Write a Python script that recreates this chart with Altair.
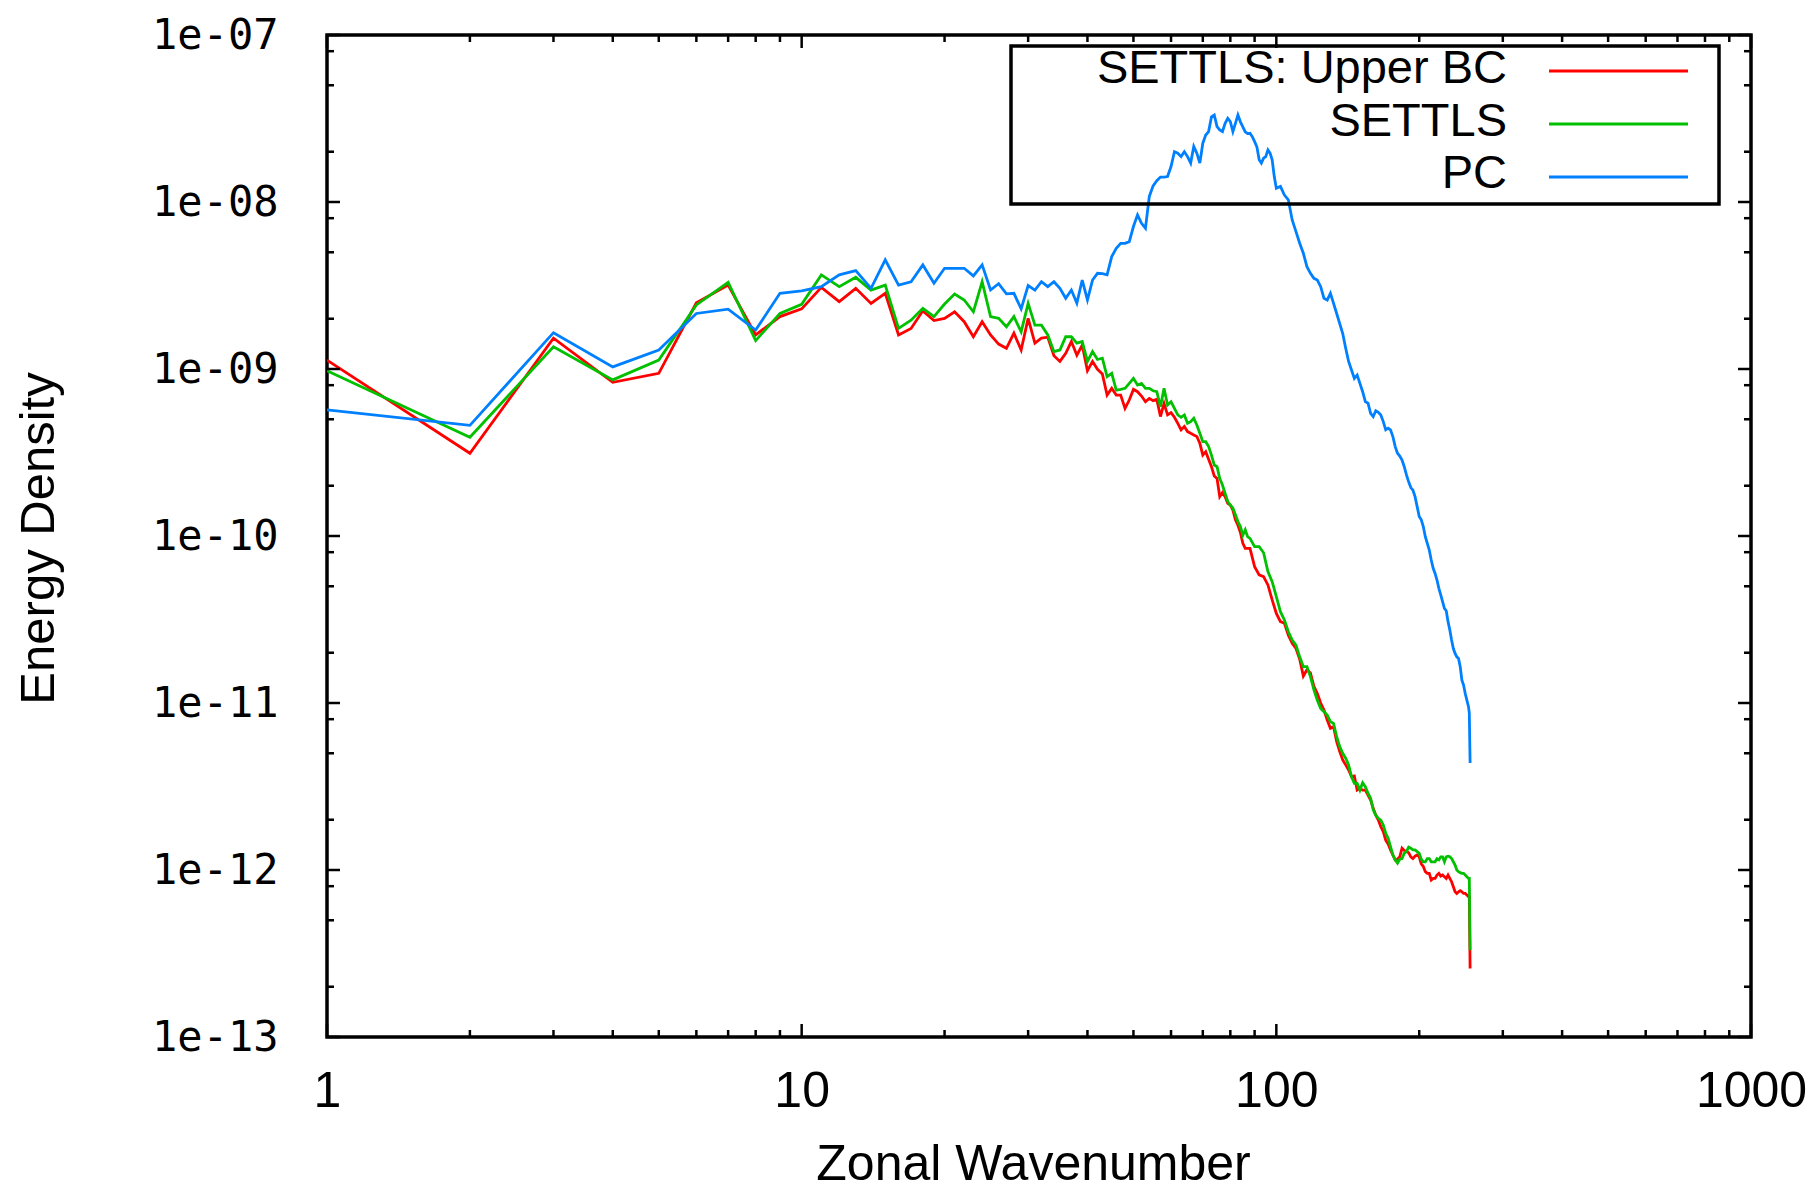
import altair as alt
import pandas as pd

# ---------------- data ----------------
k_settls = [
    1, 2, 3, 4, 5, 6, 7, 8, 9, 10, 11, 12, 13, 14, 15, 16, 17, 18, 19, 20,
    21, 22, 23, 24, 25, 26, 27, 28, 29, 30, 31, 32, 33, 34, 35, 36, 37, 38, 39, 40,
    41, 42, 43, 44, 45, 46, 47, 48, 49, 50, 51, 52, 53, 54, 55, 56, 57, 58, 59, 60,
    61, 62, 63, 64, 65, 66, 67, 68, 69, 70, 71, 72, 73, 74, 75, 76, 77, 78, 79, 80,
    81, 82, 83, 84, 85, 86, 87,
    88, 90, 92, 94, 96, 98, 100, 102, 104, 106,
    108, 110, 112, 114, 116, 118, 120, 122, 124, 126,
    128, 130, 132, 134, 136, 138, 140, 142, 144, 146,
    148, 150, 152, 154, 156, 158, 160, 162, 164, 166,
    168, 170, 172, 174, 176, 178, 180, 182, 184, 186,
    188, 190, 192, 194, 196, 198, 200, 202, 204, 206,
    208, 210, 212, 214, 216, 218, 220, 222, 224, 226,
    228, 230, 232, 234, 236, 238, 240, 242, 244, 246,
    248, 250, 252, 254, 255, 256,
]

e_upper_bc = [
    1.13e-9, 3.13e-10, 1.53e-9, 8.32e-10, 9.42e-10, 2.49e-9, 3.18e-9, 1.60e-9, 2.06e-9, 2.29e-9,
    3.08e-9, 2.53e-9, 3.04e-9, 2.47e-9, 2.84e-9, 1.60e-9, 1.75e-9, 2.23e-9, 1.95e-9, 2.01e-9,
    2.20e-9, 1.92e-9, 1.56e-9, 1.92e-9, 1.60e-9, 1.41e-9, 1.33e-9, 1.64e-9, 1.30e-9, 2.01e-9,
    1.43e-9, 1.53e-9, 1.55e-9, 1.20e-9, 1.11e-9, 1.24e-9, 1.46e-9, 1.21e-9, 1.39e-9, 9.77e-10,
    1.11e-9, 9.95e-10, 9.33e-10, 6.98e-10, 7.66e-10, 6.98e-10, 6.98e-10, 5.81e-10, 6.52e-10, 7.55e-10,
    7.31e-10, 6.89e-10, 6.37e-10, 6.67e-10, 6.46e-10, 6.58e-10, 5.19e-10, 6.22e-10, 5.31e-10, 5.48e-10,
    5.14e-10, 4.73e-10, 4.32e-10, 4.52e-10, 4.22e-10, 4.12e-10, 4.03e-10, 3.94e-10, 3.59e-10, 3.05e-10,
    3.20e-10, 2.88e-10, 2.60e-10, 2.29e-10, 2.21e-10, 1.72e-10, 1.82e-10, 1.72e-10, 1.57e-10, 1.53e-10,
    1.43e-10, 1.25e-10, 1.16e-10, 1.05e-10, 9.04e-11, 8.43e-11, 8.43e-11,
    8.43e-11, 6.55e-11, 5.85e-11, 5.71e-11, 5.09e-11, 4.14e-11, 3.44e-11, 3.07e-11, 3.00e-11, 2.55e-11,
    2.28e-11, 2.12e-11, 1.83e-11, 1.45e-11, 1.58e-11, 1.51e-11, 1.26e-11, 1.14e-11, 1.00e-11, 9.08e-12,
    7.91e-12, 7.05e-12, 7.21e-12, 5.87e-12, 5.12e-12, 4.56e-12, 4.26e-12, 3.97e-12, 3.62e-12, 3.66e-12,
    3.01e-12, 3.08e-12, 3.01e-12, 3.01e-12, 2.81e-12, 2.62e-12, 2.34e-12, 2.13e-12, 1.99e-12, 1.82e-12,
    1.70e-12, 1.51e-12, 1.43e-12, 1.32e-12, 1.23e-12, 1.15e-12, 1.16e-12, 1.20e-12, 1.35e-12, 1.31e-12,
    1.29e-12, 1.27e-12, 1.20e-12, 1.17e-12, 1.21e-12, 1.23e-12, 1.20e-12, 1.09e-12, 1.05e-12, 9.77e-13,
    9.55e-13, 9.55e-13, 8.71e-13, 8.91e-13, 8.91e-13, 9.33e-13, 9.55e-13, 9.20e-13, 9.33e-13, 9.12e-13,
    8.91e-13, 9.33e-13, 8.91e-13, 8.51e-13, 7.94e-13, 7.41e-13, 7.24e-13, 7.41e-13, 7.52e-13, 7.41e-13,
    7.24e-13, 7.24e-13, 7.08e-13, 6.92e-13, 6.92e-13, 2.57e-13,
]

e_settls = [
    9.77e-10, 3.90e-10, 1.36e-9, 8.61e-10, 1.13e-9, 2.42e-9, 3.30e-9, 1.48e-9, 2.15e-9, 2.44e-9,
    3.66e-9, 3.11e-9, 3.54e-9, 2.97e-9, 3.18e-9, 1.75e-9, 1.96e-9, 2.31e-9, 2.06e-9, 2.45e-9,
    2.81e-9, 2.59e-9, 2.20e-9, 3.33e-9, 2.06e-9, 2.01e-9, 1.79e-9, 2.06e-9, 1.67e-9, 2.47e-9,
    1.83e-9, 1.83e-9, 1.60e-9, 1.27e-9, 1.30e-9, 1.56e-9, 1.56e-9, 1.43e-9, 1.46e-9, 1.11e-9,
    1.27e-9, 1.14e-9, 1.16e-9, 9.00e-10, 9.42e-10, 7.48e-10, 7.55e-10, 7.66e-10, 8.20e-10, 8.79e-10,
    8.02e-10, 8.20e-10, 7.66e-10, 7.66e-10, 7.41e-10, 7.31e-10, 5.94e-10, 7.66e-10, 6.08e-10, 6.37e-10,
    5.81e-10, 5.31e-10, 5.14e-10, 5.31e-10, 4.73e-10, 4.84e-10, 5.07e-10, 4.62e-10, 4.12e-10, 3.67e-10,
    3.67e-10, 3.43e-10, 3.05e-10, 2.66e-10, 2.60e-10, 2.21e-10, 2.02e-10, 1.80e-10, 1.61e-10, 1.53e-10,
    1.47e-10, 1.34e-10, 1.22e-10, 1.14e-10, 1.01e-10, 1.09e-10, 9.91e-11,
    9.68e-11, 8.63e-11, 8.63e-11, 7.94e-11, 6.12e-11, 5.33e-11, 4.34e-11, 3.52e-11, 3.14e-11, 2.67e-11,
    2.38e-11, 2.22e-11, 1.89e-11, 1.65e-11, 1.65e-11, 1.44e-11, 1.20e-11, 1.04e-11, 9.29e-12, 8.87e-12,
    8.47e-12, 7.73e-12, 7.55e-12, 6.28e-12, 5.48e-12, 5.00e-12, 4.67e-12, 4.26e-12, 3.62e-12, 3.30e-12,
    3.30e-12, 3.01e-12, 3.33e-12, 3.15e-12, 2.88e-12, 2.69e-12, 2.29e-12, 2.13e-12, 2.04e-12, 1.99e-12,
    1.86e-12, 1.66e-12, 1.55e-12, 1.38e-12, 1.23e-12, 1.15e-12, 1.10e-12, 1.16e-12, 1.17e-12, 1.26e-12,
    1.29e-12, 1.37e-12, 1.35e-12, 1.32e-12, 1.32e-12, 1.29e-12, 1.26e-12, 1.16e-12, 1.12e-12, 1.12e-12,
    1.17e-12, 1.17e-12, 1.12e-12, 1.12e-12, 1.12e-12, 1.17e-12, 1.15e-12, 1.20e-12, 1.20e-12, 1.12e-12,
    1.20e-12, 1.21e-12, 1.20e-12, 1.17e-12, 1.12e-12, 1.07e-12, 1.00e-12, 9.77e-13, 9.64e-13, 9.55e-13,
    9.55e-13, 9.33e-13, 9.12e-13, 8.91e-13, 8.91e-13, 3.31e-13,
]

k_pc = [
    1, 2, 3, 4, 5, 6, 7, 8, 9, 10, 11, 12, 13, 14, 15, 16, 17, 18, 19, 20,
    21, 22, 23, 24, 25, 26, 27, 28, 29, 30, 31, 32, 33, 34, 35, 36, 37, 38, 39, 40,
    41, 42, 43, 44, 45, 46, 47, 48, 49, 50, 51, 52, 53, 54, 55, 56, 57, 58, 59, 60,
    61, 62, 63, 64, 65, 66, 67, 68, 69, 70, 71, 72, 73, 74, 75, 76, 77, 78, 79, 80,
    81, 82, 83, 84, 85, 86, 87, 88, 89, 90, 91, 92, 93, 94, 95, 96, 97, 98, 99,
    100, 102, 104, 106, 108, 110, 112, 114, 116, 118,
    120, 122, 124, 126, 128, 130, 132, 134, 136, 138,
    140, 142, 144, 146, 148, 150, 152, 154, 156, 158,
    160, 162, 164, 166, 168, 170, 172, 174, 176, 178,
    180, 182, 184, 186, 188, 190, 192, 194, 196, 198,
    200, 202, 204, 206, 208, 210, 212, 214, 216, 218,
    220, 222, 224, 226, 228, 230, 232, 234, 236, 238,
    240, 242, 244, 246, 248, 250, 252, 254, 255, 256,
]

e_pc = [
    5.70e-10, 4.60e-10, 1.65e-9, 1.03e-9, 1.30e-9, 2.15e-9, 2.28e-9, 1.71e-9, 2.84e-9, 2.94e-9,
    3.11e-9, 3.66e-9, 3.88e-9, 3.04e-9, 4.50e-9, 3.18e-9, 3.33e-9, 4.20e-9, 3.26e-9, 4.01e-9,
    4.01e-9, 4.01e-9, 3.61e-9, 4.20e-9, 2.97e-9, 3.24e-9, 2.82e-9, 2.84e-9, 2.29e-9, 3.16e-9,
    2.97e-9, 3.33e-9, 3.11e-9, 3.33e-9, 3.04e-9, 2.65e-9, 2.97e-9, 2.48e-9, 3.41e-9, 2.59e-9,
    3.41e-9, 3.74e-9, 3.72e-9, 3.66e-9, 4.71e-9, 5.28e-9, 5.66e-9, 5.66e-9, 5.79e-9, 7.13e-9,
    8.38e-9, 7.46e-9, 6.97e-9, 1.08e-8, 1.25e-8, 1.34e-8, 1.41e-8, 1.41e-8, 1.42e-8, 1.63e-8,
    2.00e-8, 1.96e-8, 1.87e-8, 2.00e-8, 1.87e-8, 1.71e-8, 2.15e-8, 1.96e-8, 1.71e-8, 2.25e-8,
    2.52e-8, 2.64e-8, 3.24e-8, 3.32e-8, 2.83e-8, 2.70e-8, 2.64e-8, 2.96e-8, 3.17e-8, 3.03e-8,
    2.64e-8, 2.96e-8, 3.32e-8, 3.02e-8, 2.82e-8, 2.63e-8, 2.57e-8, 2.58e-8, 2.46e-8, 2.30e-8,
    2.14e-8, 1.79e-8, 1.71e-8, 1.83e-8, 1.87e-8, 2.05e-8, 1.96e-8, 1.79e-8, 1.42e-8,
    1.21e-8, 1.24e-8, 1.10e-8, 1.03e-8, 7.80e-9, 6.65e-9, 5.66e-9, 4.93e-9, 4.10e-9, 3.74e-9,
    3.49e-9, 3.41e-9, 3.11e-9, 2.65e-9, 2.59e-9, 2.84e-9, 2.47e-9, 2.15e-9, 1.87e-9, 1.63e-9,
    1.33e-9, 1.11e-9, 9.86e-10, 8.79e-10, 9.20e-10, 8.20e-10, 7.31e-10, 6.38e-10, 6.24e-10, 5.43e-10,
    5.19e-10, 5.62e-10, 5.50e-10, 5.31e-10, 4.84e-10, 4.32e-10, 4.42e-10, 4.32e-10, 3.94e-10, 3.43e-10,
    3.13e-10, 3.01e-10, 2.85e-10, 2.60e-10, 2.32e-10, 2.11e-10, 1.95e-10, 1.88e-10, 1.72e-10, 1.50e-10,
    1.31e-10, 1.25e-10, 1.14e-10, 9.91e-11, 9.04e-11, 8.24e-11, 7.18e-11, 6.40e-11, 5.97e-11, 5.45e-11,
    4.86e-11, 4.44e-11, 4.05e-11, 3.69e-11, 3.57e-11, 3.07e-11, 2.74e-11, 2.38e-11, 2.12e-11, 1.98e-11,
    1.89e-11, 1.85e-11, 1.65e-11, 1.37e-11, 1.28e-11, 1.14e-11, 1.04e-11, 9.51e-12, 8.71e-12, 4.37e-12,
]

series_names = ["SETTLS: Upper BC", "SETTLS", "PC"]
series_colors = ["#ff0000", "#00c000", "#0080ff"]

x_major_ticks = [1, 10, 100, 1000]
x_minor_ticks = [2, 3, 4, 5, 6, 7, 8, 9, 20, 30, 40, 50, 60, 70, 80, 90,
                 200, 300, 400, 500, 600, 700, 800, 900]
y_major_ticks = [1e-13, 1e-12, 1e-11, 1e-10, 1e-9, 1e-8, 1e-7]
y_minor_ticks = [2e-13, 5e-13, 8e-13, 2e-12, 5e-12, 8e-12, 2e-11, 5e-11, 8e-11,
                 2e-10, 5e-10, 8e-10, 2e-9, 5e-9, 8e-9, 2e-8, 5e-8, 8e-8]

# ---------------- layout ----------------
W, H = 1424, 1002
MAJOR, MINOR = 13, 7
TICK_W = 2.5

xscale = alt.Scale(type="log", domain=[1, 1000], nice=False)
yscale = alt.Scale(type="log", domain=[1e-13, 1e-7], nice=False)


def series_df(ks, es, name):
    rows = [{"k": k, "E": e, "series": name} for k, e in zip(ks, es)]
    return pd.DataFrame(rows)


x_axis = alt.Axis(
    values=x_major_ticks, format="d", ticks=False, domain=False, grid=False,
    labelFont="Liberation Sans", labelFontSize=50, labelColor="black",
    labelPadding=29, labelFlush=False, labelOverlap=False,
    title="Zonal Wavenumber", titleFont="Liberation Sans", titleFontSize=50,
    titleFontWeight="normal", titleColor="black",
    titleX=706, titleY=142, titleBaseline="alphabetic", titleAnchor="middle",
)
y_axis = alt.Axis(
    values=y_major_ticks, ticks=False, domain=False, grid=False,
    labelExpr="'1e-' + (abs(round(log(datum.value)/LN10)) < 10 ? '0' : '') + abs(round(log(datum.value)/LN10))",
    labelFont="DejaVu Sans Mono", labelFontSize=42, labelColor="black",
    labelPadding=49, labelFlush=False, labelOverlap=False,
    title="Energy Density", titleFont="Liberation Sans", titleFontSize=49,
    titleFontWeight="normal", titleColor="black",
    titleX=-274, titleY=503, titleBaseline="alphabetic", titleAngle=270,
)

layers = []

# data lines (first layer carries the axes)
series_data = [(k_settls, e_upper_bc), (k_settls, e_settls), (k_pc, e_pc)]
for i, ((ks, es), name, color) in enumerate(zip(series_data, series_names, series_colors)):
    if i == 0:
        xenc = alt.X("k:Q", scale=xscale, axis=x_axis)
        yenc = alt.Y("E:Q", scale=yscale, axis=y_axis)
    else:
        xenc = alt.X("k:Q", scale=xscale)
        yenc = alt.Y("E:Q", scale=yscale)
    layers.append(
        alt.Chart(series_df(ks, es, name)).mark_line(
            color=color, strokeWidth=2.8, clip=True
        ).encode(x=xenc, y=yenc)
    )

# inward ticks on all four sides
for vals, length in ((x_major_ticks, MAJOR), (x_minor_ticks, MINOR)):
    df = pd.DataFrame({"k": vals})
    for y0, y1 in ((H, H - length), (0, length)):
        layers.append(
            alt.Chart(df).mark_rule(color="black", strokeWidth=TICK_W).encode(
                x=alt.X("k:Q", scale=xscale),
                y=alt.value(y0), y2=alt.value(y1),
            )
        )
for vals, length in ((y_major_ticks, MAJOR), (y_minor_ticks, MINOR)):
    df = pd.DataFrame({"E": vals})
    for x0, x1 in ((0, length), (W, W - length)):
        layers.append(
            alt.Chart(df).mark_rule(color="black", strokeWidth=TICK_W).encode(
                y=alt.Y("E:Q", scale=yscale),
                x=alt.value(x0), x2=alt.value(x1),
            )
        )

# legend (gnuplot style: right-aligned label, sample line to the right, boxed)
legend_text_baselines = [48, 101, 153]
legend_line_ys = [36, 89, 142]
for name, color, tb, ly in zip(series_names, series_colors, legend_text_baselines, legend_line_ys):
    one = pd.DataFrame({"name": [name]})
    layers.append(
        alt.Chart(one).mark_text(
            align="right", baseline="alphabetic", font="Liberation Sans",
            fontSize=47, color="black",
        ).encode(text="name:N", x=alt.value(1180), y=alt.value(tb))
    )
    layers.append(
        alt.Chart(one).mark_rule(color=color, strokeWidth=3).encode(
            x=alt.value(1222), x2=alt.value(1361), y=alt.value(ly)
        )
    )
layers.append(
    alt.Chart(pd.DataFrame({"box": [1]})).mark_rect(
        fillOpacity=0, stroke="black", strokeWidth=3.5
    ).encode(x=alt.value(684), x2=alt.value(1392), y=alt.value(11), y2=alt.value(169))
)

chart = alt.layer(*layers).properties(
    width=W, height=H,
    autosize=alt.AutoSizeParams(type="none"),
    padding={"left": 327, "top": 35, "right": 62, "bottom": 154},
    background="white",
).configure_view(stroke="black", strokeWidth=3.5)

chart.save("out.html", embed_options={"renderer": "svg", "actions": False})
